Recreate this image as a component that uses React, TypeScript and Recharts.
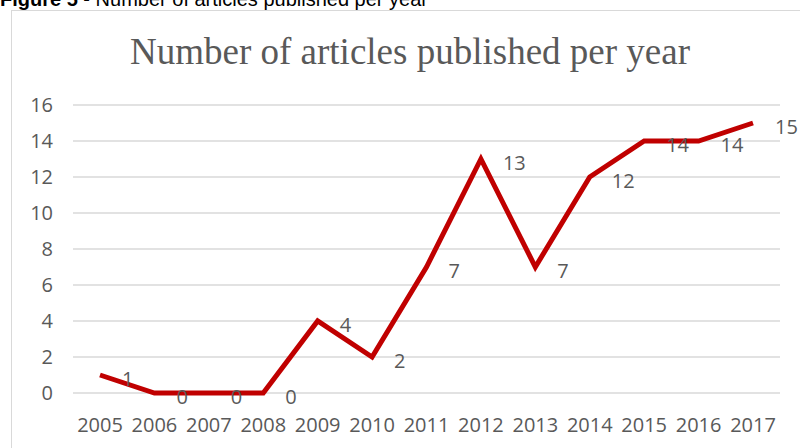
import React from 'react';
import { CartesianGrid, LabelList, Line, LineChart, XAxis, YAxis } from 'recharts';

const years = ['2005', '2006', '2007', '2008', '2009', '2010', '2011', '2012', '2013', '2014', '2015', '2016', '2017'];
const articles = [1, 0, 0, 0, 4, 2, 7, 13, 7, 12, 14, 14, 15];
const yTicks = [0, 2, 4, 6, 8, 10, 12, 14, 16];

const data = years.map((year, i) => ({ year, count: articles[i] }));

const textColor = '#595959';
const font = '"Open Sans", sans-serif';

const PointLabel = (props: any) => {
  const { x, y, value } = props;
  return (
    <text
      x={x + 22}
      y={y + 3}
      fill={textColor}
      fontSize={20}
      fontFamily={font}
      textAnchor="start"
      dominantBaseline="central"
    >
      {value}
    </text>
  );
};

const App = () => {
  return (
    <div
      style={{
        position: 'fixed',
        left: 0,
        top: 0,
        width: 800,
        height: 448,
        overflow: 'hidden',
        background: '#fff',
      }}
    >
      <div
        style={{
          position: 'absolute',
          left: 0,
          top: -11,
          fontFamily: '"Liberation Sans", sans-serif',
          fontSize: 20,
          lineHeight: '20px',
          color: '#000',
          whiteSpace: 'nowrap',
        }}
      >
        <b>Figure 5</b> - Number of articles published per year
      </div>
      <div
        style={{
          position: 'absolute',
          left: 11,
          top: 10,
          width: 820,
          height: 460,
          border: '1px solid #d9d9d9',
        }}
      />
      <div
        style={{
          position: 'absolute',
          left: 0,
          top: 30,
          width: 820,
          textAlign: 'center',
          fontFamily: '"Liberation Serif", "Times New Roman", serif',
          fontSize: 37,
          color: textColor,
        }}
      >
        Number of articles published per year
      </div>
      <div style={{ position: 'absolute', left: 0, top: 0, width: 800, height: 448 }}>
        <LineChart
          width={800}
          height={448}
          data={data}
          margin={{ top: 105, right: 20, bottom: 25, left: 13 }}
          style={{ overflow: 'visible' }}
        >
          <CartesianGrid vertical={false} stroke="#d9d9d9" strokeWidth={1.5} />
          <XAxis
            dataKey="year"
            axisLine={false}
            tickLine={false}
            height={30}
            tickMargin={19}
            padding={{ left: 27, right: 27 }}
            tick={{ fill: textColor, fontSize: 20, fontFamily: font }}
            interval={0}
          />
          <YAxis
            domain={[0, 16]}
            ticks={yTicks}
            width={60}
            axisLine={false}
            tickLine={false}
            tickMargin={14}
            tick={{ fill: textColor, fontSize: 20, fontFamily: font }}
          />
          <Line
            type="linear"
            dataKey="count"
            stroke="#C00000"
            strokeWidth={5}
            dot={false}
            activeDot={false}
            strokeLinejoin="miter"
            isAnimationActive={false}
          >
            <LabelList dataKey="count" content={<PointLabel />} />
          </Line>
        </LineChart>
      </div>
    </div>
  );
};

export default App;
